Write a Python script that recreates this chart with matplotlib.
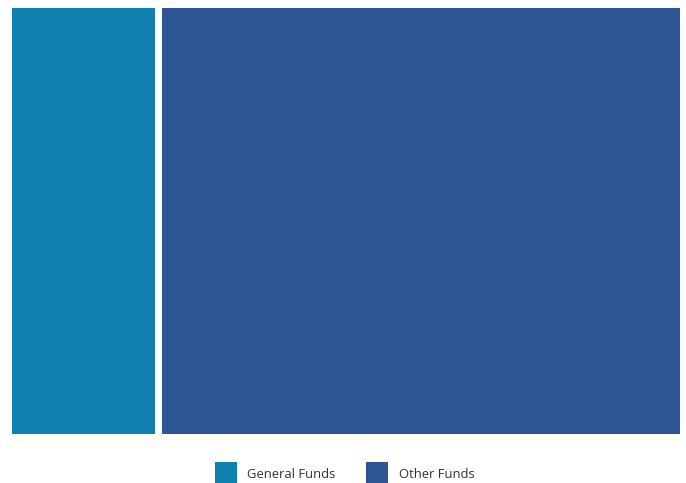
import matplotlib
matplotlib.use("Agg")
import matplotlib.pyplot as plt
from matplotlib.patches import Rectangle

categories = ["General Funds", "Other Funds"]
values = [21.9, 78.1]
colors = ["#1080AE", "#2E5593"]

W, H = 686, 483
fig = plt.figure(figsize=(W / 100, H / 100), dpi=100)
ax = fig.add_axes([12 / W, (H - 434) / H, (680 - 12) / W, (434 - 8) / H])
total = sum(values)
ax.set_xlim(0, total)
ax.set_ylim(0, 1)
ax.axis("off")

gap = 7 / 668 * total  # white gap in data units
start = 0.0
for i, (cat, v, c) in enumerate(zip(categories, values, colors)):
    x0 = start + (gap / 2 if i > 0 else 0)
    x1 = start + v - (gap / 2 if i < len(values) - 1 else 0)
    ax.add_patch(Rectangle((x0, 0), x1 - x0, 1, facecolor=c, edgecolor="none"))
    start += v

# legend
leg_items = [(215, 247), (366, 399)]
for (sx, tx), cat, c in zip(leg_items, categories, colors):
    fig.patches.append(Rectangle((sx / W, 0), 22 / W, 21 / H, transform=fig.transFigure,
                                 facecolor=c, edgecolor="none"))
    fig.text(tx / W, (H - 474) / H, cat, fontsize=9.4, color="#333333",
             family=["Open Sans", "DejaVu Sans"], va="center", ha="left")

fig.savefig("out.png", dpi=100)
